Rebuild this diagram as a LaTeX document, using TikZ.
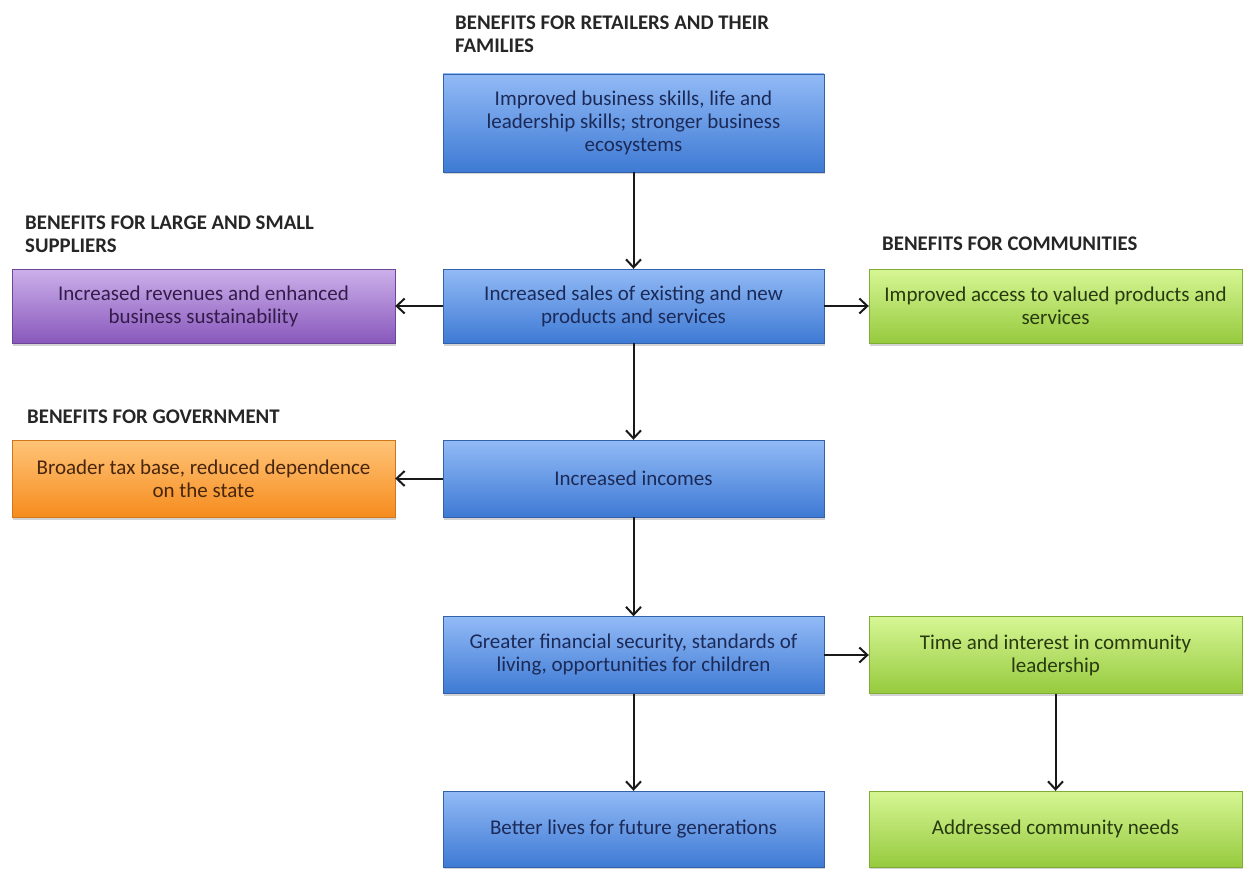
\documentclass[tikz,border=0pt]{standalone}
\usepackage{fontspec}
\setmainfont{Carlito}
\usetikzlibrary{arrows.meta,shadows}
\definecolor{bluetop}{RGB}{146,186,246}
\definecolor{bluebot}{RGB}{62,122,212}
\definecolor{bluetxt}{RGB}{28,42,88}
\definecolor{purptop}{RGB}{204,176,234}
\definecolor{purpbot}{RGB}{136,88,188}
\definecolor{purptxt}{RGB}{52,28,74}
\definecolor{greentop}{RGB}{214,246,148}
\definecolor{greenbot}{RGB}{150,202,62}
\definecolor{greentxt}{RGB}{40,58,14}
\definecolor{orantop}{RGB}{255,196,120}
\definecolor{oranbot}{RGB}{246,140,30}
\definecolor{orantxt}{RGB}{72,38,12}
\begin{document}
\begin{tikzpicture}[>={Straight Barb[length=8pt,width=15pt]},x=1pt,y=-1pt,
	box/.style={rectangle,align=center,inner sep=2pt,font=\fontsize{21}{23}\selectfont,
		drop shadow={shadow xshift=1pt,shadow yshift=-2.5pt,opacity=0.35}},
	bluebox/.style={box,draw=bluebot!80!black,top color=bluetop,bottom color=bluebot,text=bluetxt},
	purpbox/.style={box,draw=purpbot!80!black,top color=purptop,bottom color=purpbot,text=purptxt},
	greenbox/.style={box,draw=greenbot!85!black,top color=greentop,bottom color=greenbot,text=greentxt},
	oranbox/.style={box,draw=oranbot!85!black,top color=orantop,bottom color=oranbot,text=orantxt},
	head/.style={anchor=base west,align=left,inner sep=0pt,font=\bfseries\fontsize{20.8}{23}\selectfont,text=black!85},
	link/.style={->,line width=2pt,black!90}]
	\useasboundingbox (0,0) rectangle (1244,869);
	% headings (base = last line)
	\node[head] (hretail) at (455,53) {BENEFITS FOR RETAILERS AND THEIR\\FAMILIES};
	\node[head] (hsupply) at (25,252) {BENEFITS FOR LARGE AND SMALL\\SUPPLIERS};
	\node[head] (hcommun) at (882,250) {BENEFITS FOR COMMUNITIES};
	\node[head] (hgovern) at (27,423) {BENEFITS FOR GOVERNMENT};
	% boxes
	\node[bluebox,minimum width=381,minimum height=98] (skills) at (633.5,123) {Improved business skills, life and\\leadership skills; stronger business\\ecosystems};
	\node[bluebox,minimum width=381,minimum height=74] (sales) at (633.5,306) {Increased sales of existing and new\\products and services};
	\node[purpbox,minimum width=383,minimum height=74] (revenue) at (203.5,306) {Increased revenues and enhanced\\business sustainability};
	\node[greenbox,minimum width=373,minimum height=74] (access) at (1055.5,306) {Improved access to valued products and\\services};
	\node[bluebox,minimum width=381,minimum height=77] (incomes) at (633.5,478.5) {Increased incomes};
	\node[oranbox,minimum width=383,minimum height=77] (taxbase) at (203.5,478.5) {Broader tax base, reduced dependence\\on the state};
	\node[bluebox,minimum width=381,minimum height=77] (security) at (633.5,655) {Greater financial security, standards of\\living, opportunities for children};
	\node[greenbox,minimum width=373,minimum height=77] (leader) at (1055.5,655) {Time and interest in community\\leadership};
	\node[bluebox,minimum width=381,minimum height=76] (future) at (633.5,829) {Better lives for future generations};
	\node[greenbox,minimum width=373,minimum height=76] (needs) at (1055.5,829) {Addressed community needs};
	% arrows
	\draw[link] (skills) -- (sales);
	\draw[link] (sales) -- (revenue);
	\draw[link] (sales) -- (access);
	\draw[link] (sales) -- (incomes);
	\draw[link] (incomes) -- (taxbase);
	\draw[link] (incomes) -- (security);
	\draw[link] (security) -- (leader);
	\draw[link] (security) -- (future);
	\draw[link] (leader) -- (needs);
\end{tikzpicture}
\end{document}
